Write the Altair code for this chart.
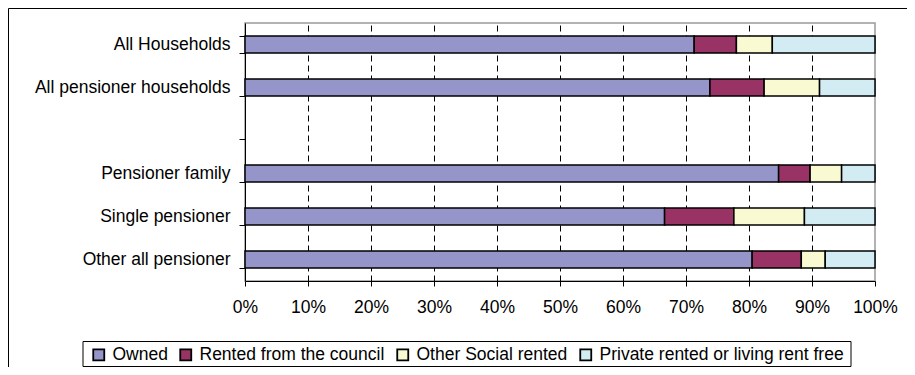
import altair as alt
import pandas as pd

categories = ["All Households", "All pensioner households", "", "Pensioner family",
              "Single pensioner", "Other all pensioner"]
bar_categories = ["All Households", "All pensioner households", "Pensioner family",
                  "Single pensioner", "Other all pensioner"]
tenures = ["Owned", "Rented from the council", "Other Social rented",
           "Private rented or living rent free"]
owned = [71.3, 73.8, 84.7, 66.6, 80.5]
council = [6.7, 8.6, 5.0, 11.0, 7.8]
social = [5.7, 8.8, 5.0, 11.2, 3.8]
private = [16.3, 8.8, 5.3, 11.2, 7.9]
colors = ["#9595C9", "#993366", "#FAFAD2", "#D3ECF3"]
x_ticks = [0, 0.1, 0.2, 0.3, 0.4, 0.5, 0.6, 0.7, 0.8, 0.9, 1.0]

series = [owned, council, social, private]
rows = []
for i, c in enumerate(bar_categories):
    for j, t in enumerate(tenures):
        rows.append({"category": c, "tenure": t, "order": j, "value": series[j][i]})
df = pd.DataFrame(rows)

FONT = "Liberation Sans"

bars = alt.Chart(df).mark_bar(stroke="black", strokeWidth=1.5).encode(
    y=alt.Y("category:N",
            scale=alt.Scale(domain=categories, paddingInner=0.6, paddingOuter=0.3),
            axis=alt.Axis(title=None, tickBand="extent", tickSize=6, tickColor="black",
                          domainColor="black", labelPadding=9, labelFontSize=17.5,
                          labelColor="black", labelFont=FONT, grid=False, labelLimit=400)),
    x=alt.X("value:Q", stack="normalize",
            scale=alt.Scale(domain=[0, 1], nice=False),
            axis=alt.Axis(title=None, format=".0%", values=x_ticks, grid=True,
                          gridDash=[6, 4], gridColor="black",
                          gridOpacity={"condition": {"test": "datum.value <= 0 || datum.value >= 1",
                                                     "value": 0}, "value": 1},
                          tickSize=5, tickColor="black", domainColor="black",
                          labelPadding=12, labelFontSize=17.5, labelColor="black",
                          labelFont=FONT, labelFlush=False, labelOverlap=False)),
    color=alt.Color("tenure:N", scale=alt.Scale(domain=tenures, range=colors),
                    legend=alt.Legend(title=None, orient="none", legendX=-155, legendY=323,
                                      direction="horizontal", symbolType="square",
                                      symbolSize=121, symbolStrokeColor="black",
                                      symbolStrokeWidth=1.8, labelFontSize=17.5,
                                      labelFont=FONT, labelColor="black", labelOffset=5,
                                      columnPadding=8, padding=0, labelLimit=400)),
    order=alt.Order("order:Q"),
)

one = pd.DataFrame({"a": [0]})
border_left = alt.Chart(one).mark_rule(color="black", strokeWidth=1).encode(
    x=alt.value(-236.5), y=alt.value(-14.5), y2=alt.value(400))
border_top = alt.Chart(one).mark_rule(color="black", strokeWidth=1).encode(
    x=alt.value(-236.5), x2=alt.value(700), y=alt.value(-14.5))
legend_box = alt.Chart(one).mark_rect(fill="white", stroke="black", strokeWidth=1).encode(
    x=alt.value(-162), x2=alt.value(606), y=alt.value(318.5), y2=alt.value(343.5))

chart = alt.layer(bars, border_left, border_top, legend_box).properties(
    width=630, height=258,
    padding={"left": 237, "top": 15, "right": 32, "bottom": 86},
    autosize=alt.AutoSizeParams(type="none"),
).configure_view(stroke="#999999", strokeWidth=1.5)

chart.save("out.html", embed_options={"renderer": "svg", "actions": False})
